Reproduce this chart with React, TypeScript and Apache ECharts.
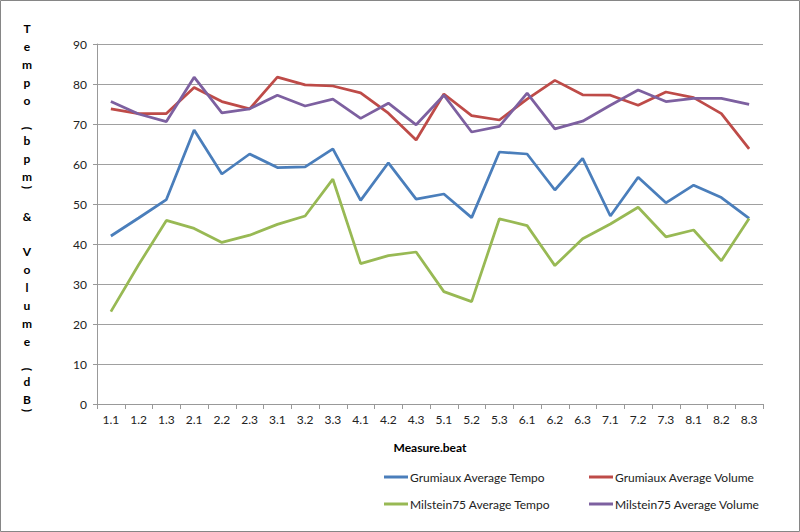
import React, { useEffect, useRef } from "react";
import * as echarts from "echarts";

const categories = [
  "1.1", "1.2", "1.3", "2.1", "2.2", "2.3", "3.1", "3.2", "3.3", "4.1", "4.2", "4.3",
  "5.1", "5.2", "5.3", "6.1", "6.2", "6.3", "7.1", "7.2", "7.3", "8.1", "8.2", "8.3",
];

const grumiauxTempo = [
  42, 46.5, 51.1, 68.5, 57.5, 62.5, 59.1, 59.3, 63.8, 50.9, 60.3, 51.2,
  52.5, 46.6, 63, 62.5, 53.5, 61.4, 47, 56.7, 50.3, 54.7, 51.6, 46.4,
];
const grumiauxVolume = [
  73.8, 72.6, 72.6, 79.1, 75.6, 73.8, 81.7, 79.8, 79.5, 77.8, 72.7, 66,
  77.5, 72.1, 71, 76.2, 80.9, 77.3, 77.2, 74.7, 78, 76.6, 72.6, 63.8,
];
const milsteinTempo = [
  23.1, 34.8, 45.9, 43.9, 40.4, 42.2, 44.9, 47, 56.2, 35.1, 37.1, 38,
  28.1, 25.6, 46.3, 44.6, 34.6, 41.3, 45, 49.2, 41.8, 43.5, 35.8, 46.4,
];
const milsteinVolume = [
  75.6, 72.5, 70.6, 81.7, 72.8, 73.8, 77.2, 74.5, 76.2, 71.4, 75.2, 69.8,
  77.2, 68, 69.4, 77.7, 68.8, 70.7, 74.7, 78.5, 75.6, 76.4, 76.4, 74.9,
];

const seriesNames = [
  "Grumiaux Average Tempo",
  "Grumiaux Average Volume",
  "Milstein75 Average Tempo",
  "Milstein75 Average Volume",
];
const seriesColors = ["#4A7EBB", "#BE4B48", "#98B954", "#7D60A0"];
const seriesData = [grumiauxTempo, grumiauxVolume, milsteinTempo, milsteinVolume];

const yTitle = "Tempo (bpm) & Volume (dB)";
const xTitle = "Measure.beat";

const FONT = "Lato, 'Open Sans', sans-serif";

function buildTitleChars() {
  const items: any[] = [];
  let y = 19;
  for (const ch of yTitle.split("")) {
    let h = 18;
    if (ch === " ") h = 17;
    else if (ch === "(" || ch === ")") h = 5;
    const cy = y + h / 2;
    if (ch !== " ") {
      items.push({
        type: "text",
        x: 27,
        y: cy,
        rotation: ch === "(" || ch === ")" ? -Math.PI / 2 : 0,
        style: {
          text: ch,
          fill: "#000",
          font: `bold 12px ${FONT}`,
          align: "center",
          verticalAlign: "middle",
        },
      });
    }
    y += h;
  }
  return items;
}

export default function App() {
  const ref = useRef<HTMLDivElement>(null);
  useEffect(() => {
    document.body.style.margin = "0";
    if (!ref.current) return;
    const chart = echarts.init(ref.current, undefined, { renderer: "svg" });
    const legendPos = [
      { left: 384, top: 471 },
      { left: 589, top: 471 },
      { left: 384, top: 498 },
      { left: 589, top: 498 },
    ];
    chart.setOption({
      animation: false,
      backgroundColor: "#fff",
      grid: { left: 97, right: 37, top: 44, bottom: 128 },
      xAxis: {
        type: "category",
        data: categories,
        boundaryGap: true,
        name: xTitle,
        nameLocation: "middle",
        nameGap: 37,
        nameTextStyle: { fontFamily: FONT, fontSize: 12, fontWeight: "bold", color: "#000" },
        axisLine: { lineStyle: { color: "#999", width: 1 } },
        axisTick: { show: true, length: 5, lineStyle: { color: "#999" } },
        axisLabel: { fontFamily: FONT, fontSize: 12, color: "#222", margin: 9, interval: 0 },
      },
      yAxis: {
        type: "value",
        min: 0,
        max: 90,
        interval: 10,
        axisLine: { show: true, lineStyle: { color: "#999", width: 1 } },
        axisTick: { show: true, length: 4, lineStyle: { color: "#999" } },
        axisLabel: { fontFamily: FONT, fontSize: 12, color: "#222", margin: 10 },
        splitLine: { show: true, lineStyle: { color: "#a0a0a0", width: 1 } },
      },
      legend: seriesNames.map((name, i) => ({
        data: [name],
        left: legendPos[i].left,
        top: legendPos[i].top,
        padding: 0,
        icon: "rect",
        itemWidth: 24,
        itemHeight: 3,
        textStyle: { fontFamily: FONT, fontSize: 12, color: "#222", padding: [0, 0, 0, -3] },
      })),
      series: seriesNames.map((name, i) => ({
        name,
        type: "line",
        data: seriesData[i],
        symbol: "none",
        color: seriesColors[i],
        lineStyle: { width: 2.75, color: seriesColors[i] },
        emphasis: { disabled: true },
      })),
      graphic: [
        {
          type: "rect",
          shape: { x: 0.5, y: 0.5, width: 799, height: 531 },
          style: { fill: "none", stroke: "#868686", lineWidth: 1 },
          silent: true,
        },
        ...buildTitleChars(),
      ],
    });
    return () => chart.dispose();
  }, []);
  return <div ref={ref} style={{ width: 800, height: 532 }} />;
}
